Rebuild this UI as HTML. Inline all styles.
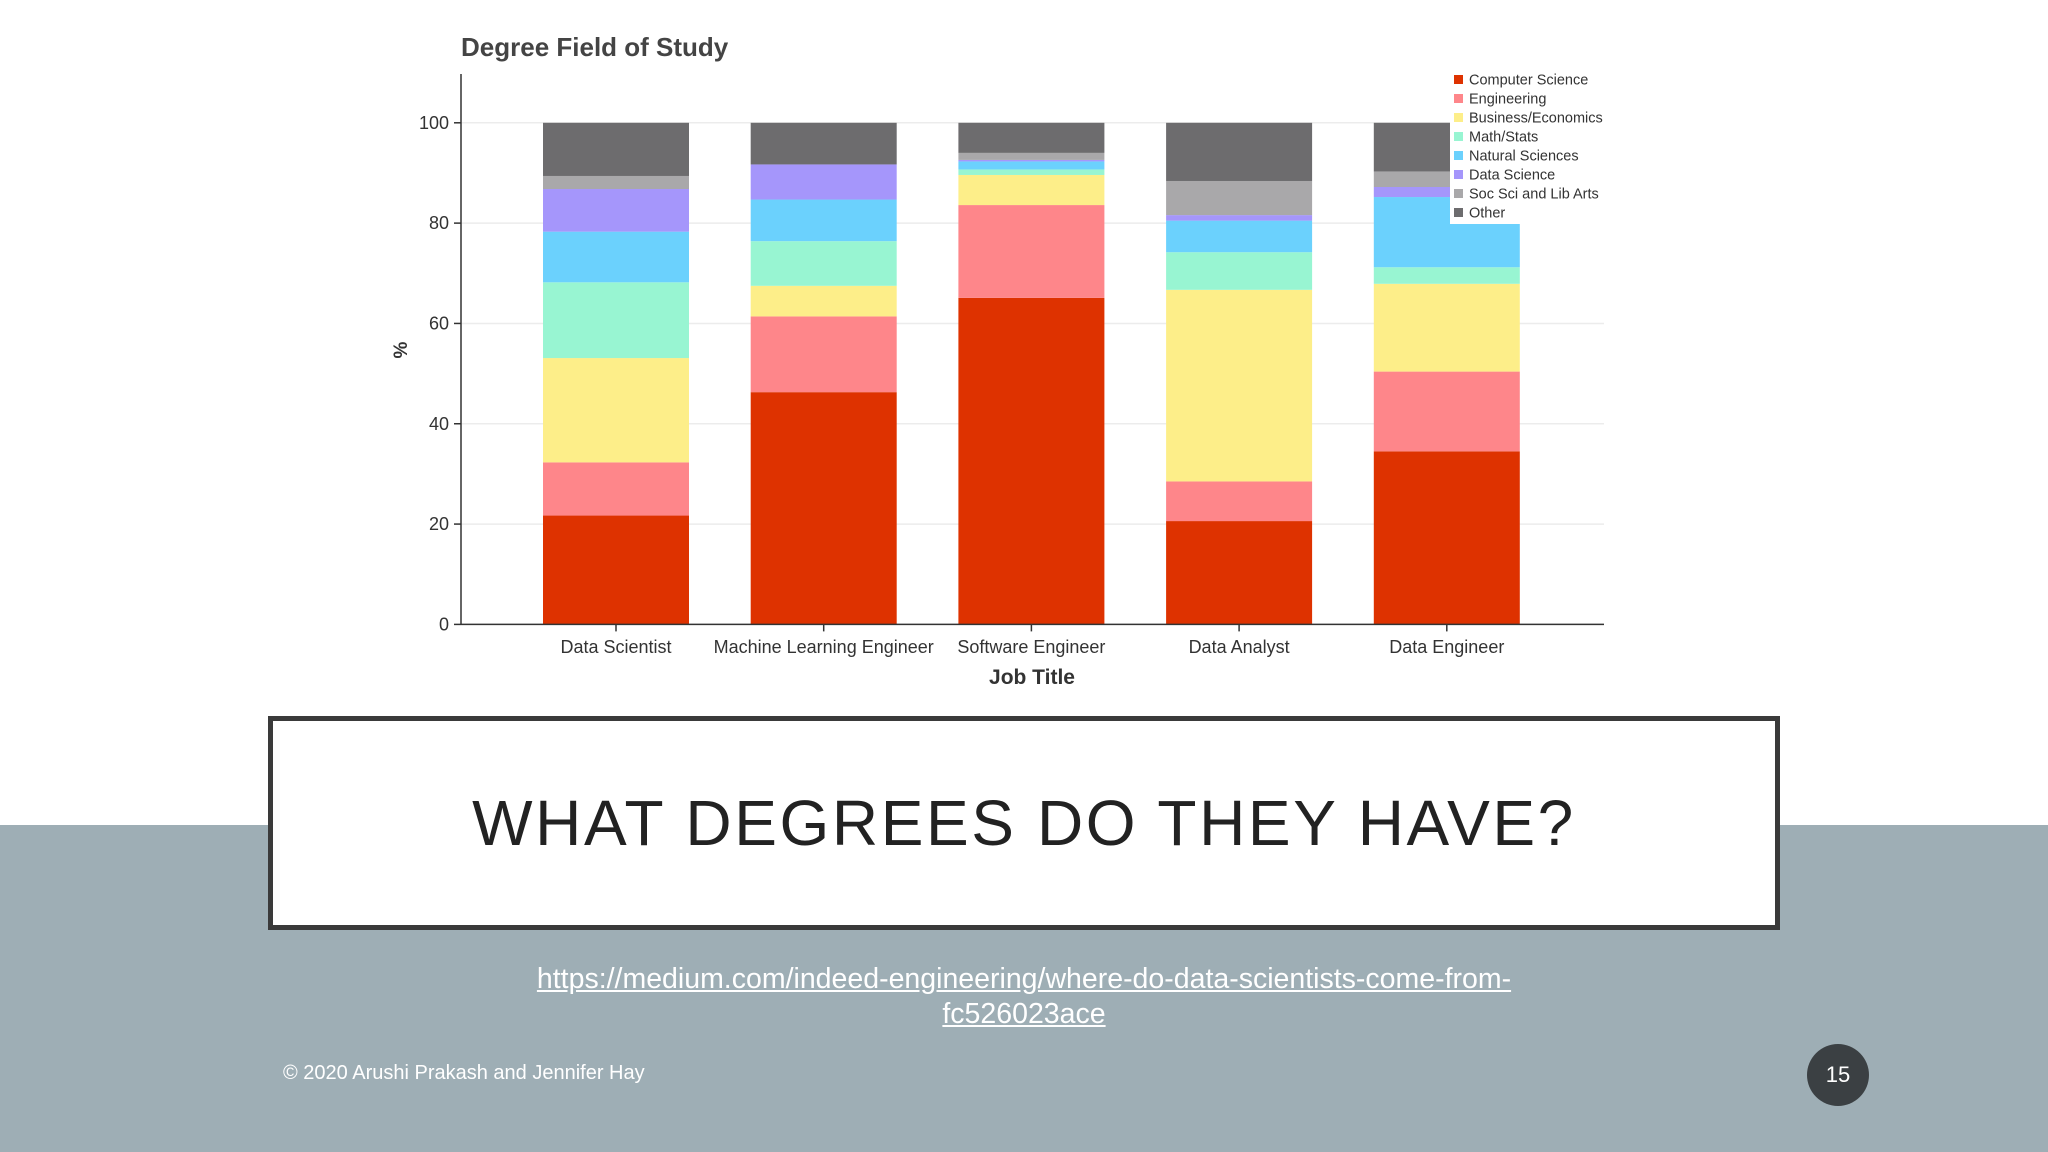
<!DOCTYPE html>
<html><head><meta charset="utf-8"><style>
html,body{margin:0;padding:0;width:2048px;height:1152px;overflow:hidden;background:#fff;font-family:"Liberation Sans",sans-serif}
#band{position:absolute;left:0;top:825px;width:2048px;height:327px;background:#9eaeb5}
#box{position:absolute;left:268px;top:716px;width:1502px;height:204px;border:5px solid #3a3a3a;background:#fff;display:flex;align-items:center;justify-content:center}
#box span{font-size:64px;letter-spacing:2.6px;color:#222}
#link{position:absolute;left:0;width:2048px;top:962px;text-align:center;color:#fff;font-size:28.5px;line-height:35px;text-decoration:underline}
#foot{position:absolute;left:283px;top:1062px;color:#fff;font-size:20px}
#pg{position:absolute;left:1807px;top:1044px;width:62px;height:62px;border-radius:50%;background:#3b4043;color:#fff;font-size:22px;display:flex;align-items:center;justify-content:center}
svg{position:absolute;left:0;top:0}
</style></head><body>
<div id="band"></div>
<svg id="chart" width="2048" height="710"></svg>
<div id="box"><span>WHAT DEGREES DO THEY HAVE?</span></div>
<div id="link">https://medium.com/indeed-engineering/where-do-data-scientists-come-from-<br>fc526023ace</div>
<div id="foot">© 2020 Arushi Prakash and Jennifer Hay</div>
<div id="pg">15</div>
<script>
const categories=["Data Scientist","Machine Learning Engineer","Software Engineer","Data Analyst","Data Engineer"];
const seriesNames=["Computer Science","Engineering","Business/Economics","Math/Stats","Natural Sciences","Data Science","Soc Sci and Lib Arts","Other"];
const colors=["#de3200","#fe868a","#fdee89","#98f5d2","#6bd1fd","#a596fb","#a9a8aa","#6d6c6e"];
const cs=[21.7,46.3,65.1,20.6,34.5];
const eng=[10.6,15.1,18.5,7.9,15.9];
const bus=[20.8,6.1,6.0,38.2,17.5];
const math=[15.1,8.9,1.1,7.5,3.3];
const nat=[10.1,8.3,1.6,6.3,14.0];
const ds=[8.5,7.0,0.3,1.1,2.0];
const soc=[2.6,0,1.4,6.8,3.1];
const other=[10.6,8.3,6.0,11.6,9.7];
const yTicks=[0,20,40,60,80,100];
const series=[cs,eng,bus,math,nat,ds,soc,other];
const NS="http://www.w3.org/2000/svg",svg=document.getElementById('chart');
function el(t,a,txt){const e=document.createElementNS(NS,t);for(const k in a)e.setAttribute(k,a[k]);if(txt!==undefined)e.textContent=txt;svg.appendChild(e);return e;}
const x0=461,x1=1604,y0=624.4,y100=122.8;
const y=v=>y0-(v/100)*(y0-y100);
const step=207.7,bw=146;
const xc=i=>616+i*step;
yTicks.forEach(t=>{
 const g=el('line',{x1:x0,x2:x1,y1:y(t),y2:y(t),stroke:'#ececec','stroke-width':1.5});
 
 const tk=el('line',{x1:x0-7,x2:x0,y1:y(t),y2:y(t),stroke:'#333','stroke-width':1.5});
 
 const l=el('text',{x:x0-12,y:y(t)+6,'text-anchor':'end','font-size':18,fill:'#333'},t);
 
});
categories.forEach((c,i)=>{
 let acc=0;
 series.forEach((s,k)=>{
  const v=s[i];if(v<=0){return;}
  const r=el('rect',{x:xc(i)-bw/2,y:y(acc+v),width:bw,height:y(acc)-y(acc+v),fill:colors[k]});
  
  acc+=v;
 });
 const tk=el('line',{x1:xc(i),x2:xc(i),y1:y0,y2:y0+7,stroke:'#333','stroke-width':1.5});
 
 const l=el('text',{x:xc(i),y:653,'text-anchor':'middle','font-size':18,fill:'#333'},c);
 
});
const ax=el('line',{x1:x0,x2:x0,y1:74,y2:y0,stroke:'#333','stroke-width':1.5});

const bx=el('line',{x1:x0,x2:x1,y1:y0,y2:y0,stroke:'#333','stroke-width':1.5});

const tt=el('text',{x:461,y:56,'font-size':26,'font-weight':'bold',fill:'#444'},'Degree Field of Study');

const xt=el('text',{x:1032,y:684,'text-anchor':'middle','font-size':21,'font-weight':'bold',fill:'#333'},'Job Title');

const yt=el('text',{x:0,y:0,'text-anchor':'middle','font-size':19,'font-weight':'bold',fill:'#333',transform:'translate(407,350) rotate(-90)'},'%');

const lb=el('rect',{x:1450,y:70,width:156,height:154,fill:'#fff'});

seriesNames.forEach((n,k)=>{
 const yy=81+k*19;
 const sq=el('rect',{x:1454,y:yy-6,width:9,height:9,fill:colors[k]});
 
 const t=el('text',{x:1469,y:yy+3.5,'font-size':14.5,fill:'#333'},n);
 
});
</script>
</body></html>
